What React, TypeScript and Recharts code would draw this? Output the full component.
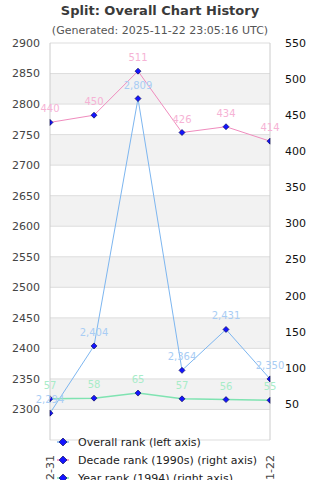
import { CartesianGrid, Line, LineChart, XAxis, YAxis } from "recharts";

const dates = ["2024-12-31", "2025-03-31", "2025-06-30", "2025-08-31", "2025-10-31", "2025-11-22"];
const overallRank = [2294, 2404, 2809, 2364, 2431, 2350];
const decadeRank = [440, 450, 511, 426, 434, 414];
const yearRank = [57, 58, 65, 57, 56, 55];
const leftTicks = [2300, 2350, 2400, 2450, 2500, 2550, 2600, 2650, 2700, 2750, 2800, 2850, 2900];
const rightTicks = [50, 100, 150, 200, 250, 300, 350, 400, 450, 500, 550];

const data = dates.map((d, i) => ({
  date: d,
  overall: overallRank[i],
  decade: decadeRank[i],
  year: yearRank[i],
}));

const series = [
  { key: "overall", axis: "left", name: "Overall rank (left axis)", color: "#7db6f0", label: "#a9cdf4", width: 1 },
  { key: "decade", axis: "right", name: "Decade rank (1990s) (right axis)", color: "#f08cbe", label: "#f6b3d5", width: 1 },
  { key: "year", axis: "right", name: "Year rank (1994) (right axis)", color: "#7fe3b1", label: "#a8ecc8", width: 1.5 },
];

const font = "'DejaVu Sans', sans-serif";
const last = dates.length - 1;

function Diamond(props: any) {
  const { cx, cy, index } = props;
  if (cx == null || cy == null) return null;
  const r = 3;
  let pts = `${cx},${cy - r} ${cx + r},${cy} ${cx},${cy + r} ${cx - r},${cy}`;
  if (index === 0) pts = `${cx},${cy - r} ${cx + r},${cy} ${cx},${cy + r}`;
  if (index === last) pts = `${cx},${cy - r} ${cx},${cy + r} ${cx - r},${cy}`;
  return <polygon key={`dot-${index}`} points={pts} fill="#1414ff" stroke="#000044" strokeWidth={0.6} />;
}

function DateTick({ x, y, payload }: any) {
  return (
    <text
      x={x + 4}
      y={y + 15}
      transform={`rotate(-90, ${x + 4}, ${y + 15})`}
      textAnchor="end"
      fontSize={11}
      fill="#444"
    >
      {payload.value}
    </text>
  );
}

export default function App() {
  return (
    <div style={{ position: "absolute", left: 0, top: 0, width: 320, height: 480, fontFamily: font, background: "#fff", overflow: "hidden" }}>
      <LineChart width={320} height={480} data={data} margin={{ top: 43, right: 0, bottom: 0, left: 0 }}>
        <CartesianGrid
          yAxisId="left"
          vertical={false}
          stroke="#dddddd"
          horizontalFill={["#ffffff", "#f2f2f2"]}
        />
        <XAxis
          dataKey="date"
          scale="point"
          padding={{ left: 0, right: 0 }}
          ticks={[dates[0], dates[last]]}
          interval={0}
          axisLine={false}
          tickLine={false}
          tickSize={0}
          tickMargin={0}
          height={40}
          tick={<DateTick />}
        />
        <YAxis
          yAxisId="left"
          domain={[2250, 2900]}
          ticks={leftTicks}
          width={50}
          tickLine={false}
          tickSize={0}
          tickMargin={10}
          axisLine={{ stroke: "#cccccc" }}
          tick={{ fontSize: 11, fill: "#444" }}
        />
        <YAxis
          yAxisId="right"
          orientation="right"
          domain={[0, 550]}
          ticks={rightTicks}
          width={50}
          tickLine={false}
          tickSize={0}
          tickMargin={15}
          axisLine={{ stroke: "#cccccc" }}
          tick={{ fontSize: 11, fill: "#111" }}
        />
        {series.map((s) => (
          <Line
            key={s.key}
            yAxisId={s.axis}
            dataKey={s.key}
            name={s.name}
            type="linear"
            stroke={s.color}
            strokeWidth={s.width}
            dot={(p: any) => <Diamond key={`${s.key}-${p.index}`} {...p} />}
            activeDot={false}
            isAnimationActive={false}
            label={{
              position: "top",
              offset: 10,
              fill: s.label,
              fontSize: 10,
              formatter: (v: any) => Number(v).toLocaleString("en-US"),
            }}
          />
        ))}
      </LineChart>
      <svg width={320} height={480} style={{ position: "absolute", left: 0, top: 0, pointerEvents: "none" }}>
        <text x={160} y={15} textAnchor="middle" fontSize={13} fontWeight="bold" fill="#3a3a3a">
          Split: Overall Chart History
        </text>
        <text x={160} y={34} textAnchor="middle" fontSize={11} fill="#555">
          (Generated: 2025-11-22 23:05:16 UTC)
        </text>
        {series.map((s, i) => {
          const cy = 442 + i * 18;
          return (
            <g key={s.key}>
              <line x1={57} x2={69} y1={cy} y2={cy} stroke={s.color} strokeWidth={1.5} />
              <polygon points={`63,${cy - 4} 67,${cy} 63,${cy + 4} 59,${cy}`} fill="#1414ff" stroke="#000044" strokeWidth={0.6} />
              <text x={78} y={cy + 4} fontSize={11} fill="#222">
                {s.name}
              </text>
            </g>
          );
        })}
      </svg>
    </div>
  );
}
